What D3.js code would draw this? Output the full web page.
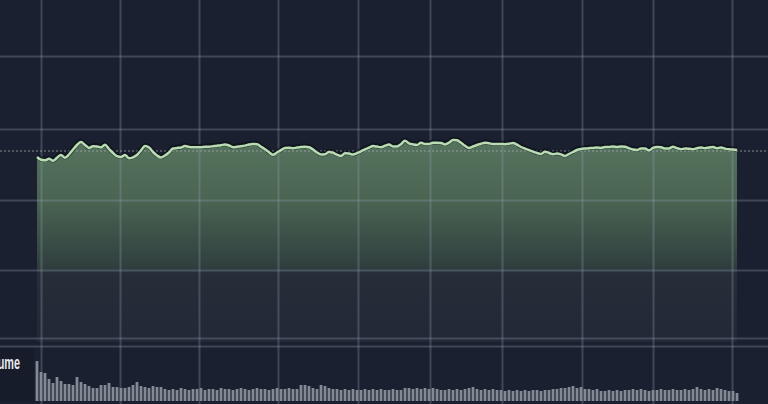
<!DOCTYPE html>
<html>
<head>
<meta charset="utf-8">
<script src="https://cdn.jsdelivr.net/npm/d3@7"></script>
<style>
  html, body { margin: 0; padding: 0; background: #1b2030; overflow: hidden; }
  svg { display: block; }
</style>
</head>
<body>
<svg id="chart" width="768" height="404"></svg>
<script>
// ---- data ----
const prices = [
  253, 250.2, 249.7, 251.2, 249.2, 252.3, 255, 252.2, 255.5, 260.5,
  265, 268, 265, 262, 263.8, 263.6, 262.5, 265.2, 261, 257,
  253.8, 253, 255, 251.7, 252.7, 255, 259.5, 264, 262.5, 258,
  254.5, 252.5, 254.5, 257.5, 261.5, 262, 262.5, 264, 263, 262.7,
  262.8, 262.7, 263.2, 263.3, 263.8, 264.3, 264.8, 265.5, 264.5, 262.8,
  263.2, 263.7, 264.4, 265.4, 266, 265.8, 263.3, 260.7, 257.8, 255.2,
  257.5, 259.8, 262, 262.3, 261.7, 262.4, 263, 263.2, 262.8, 260.5,
  257.5, 255.5, 255.7, 258, 257.2, 255.3, 254, 256.7, 256.5, 255.4,
  256.8, 258.7, 260.7, 262.4, 263.9, 263.4, 262.8, 264.2, 265.4, 263.6,
  263.6, 265.8, 269.3, 266.7, 265.6, 265, 267.3, 266, 266, 267.3,
  267.3, 267, 265.6, 267.3, 270, 269.7, 267.2, 264.2, 262, 263.5,
  265, 266.2, 267.3, 266.7, 266, 266, 266, 265.8, 266.2, 267.1,
  265.3, 263, 261.4, 259.9, 258.4, 256.9, 256, 258.3, 257, 255.8,
  256.4, 255.6, 254, 256, 258, 260, 261, 261.5, 261.8, 262,
  262.4, 262.1, 262.9, 263, 263.5, 263.1, 263.6, 263.2, 261.7, 260.5,
  260, 261.5, 261.4, 259.5, 262.1, 263.1, 262.8, 261.4, 261.6, 263.2,
  261.9, 260.8, 261.4, 261.3, 260.7, 261.8, 262.5, 261.7, 262.6, 263,
  261.7, 262.6, 261.4, 260.7, 260.5, 260
];
const volumes = [
  40, 29, 28, 22, 18, 24, 20, 17, 17, 16,
  24, 19, 17, 15, 13, 13, 16, 16, 18, 14,
  14, 13, 13, 14, 16, 19, 15, 14, 13, 15,
  14, 14, 12, 11, 12, 11, 13, 12, 11, 12,
  12, 13, 11, 12, 12, 11, 13, 12, 12, 11,
  12, 13, 12, 11, 12, 13, 12, 12, 11, 12,
  13, 12, 12, 13, 12, 12, 16, 16, 15, 13,
  12, 16, 15, 13, 12, 12, 11, 12, 11, 12,
  11, 11, 12, 11, 12, 11, 12, 11, 11, 12,
  11, 11, 13, 13, 12, 13, 12, 13, 12, 13,
  12, 11, 11, 12, 11, 12, 11, 12, 13, 14,
  12, 11, 12, 11, 12, 11, 11, 10, 11, 10,
  11, 10, 11, 10, 11, 11, 10, 11, 11, 12,
  12, 13, 13, 14, 15, 13, 14, 12, 12, 11,
  12, 10, 10, 11, 10, 11, 10, 11, 11, 12,
  11, 12, 11, 10, 11, 11, 12, 11, 11, 12,
  11, 11, 12, 11, 12, 14, 12, 11, 12, 11,
  13, 12, 11, 10, 10, 8
];
const prevClose = 259;
const xGridTicks = [1, 20.75, 40.5, 60.25, 80.25, 98.25, 116.25, 136.25, 154, 173.75];
const yGridTicks = [72, 140, 210, 281, 354];
const volumePaneTop = [55];
const volumeLabel = "Volume";

// ---- setup ----
const W = 768, H = 404;
const svg = d3.select("#chart");

const x = d3.scaleLinear().domain([0, prices.length - 1]).range([37, 737]);
const y = d3.scaleLinear().domain([70, 350]).range([340, 60]);
const yVol = d3.scaleLinear().domain([0, 50]).range([401, 351]);

svg.append("rect").attr("width", W).attr("height", H).attr("fill", "#1b2030");

// gradient for area
const defs = svg.append("defs");
const grad = defs.append("linearGradient")
  .attr("id", "areaGrad").attr("gradientUnits", "userSpaceOnUse")
  .attr("x1", 0).attr("x2", 0).attr("y1", 140).attr("y2", 342);
[[0, "#55745e"], [0.3, "#4a6452"], [0.63, "#303f3e"], [0.66, "#262e39"], [1, "#222836"]].forEach(([o, c]) => {
  grad.append("stop").attr("offset", o).attr("stop-color", c);
});

// area
const area = d3.area()
  .x((d, i) => x(i))
  .y0(342)
  .y1(d => y(d))
  .curve(d3.curveMonotoneX);
svg.append("path").datum(prices).attr("d", area).attr("fill", "url(#areaGrad)");

// label box for volume
svg.append("rect").attr("x", 0).attr("y", 348).attr("width", 34).attr("height", 53)
  .attr("fill", "#000").attr("opacity", 0.12);

// grid
const gridColor = "rgba(150,160,180,0.3)";
const gx = svg.append("g").attr("transform", `translate(0,${H})`)
  .call(d3.axisBottom(x).tickValues(xGridTicks).tickSize(-H).tickFormat(""));
gx.select(".domain").remove();
gx.selectAll("line").attr("stroke", gridColor).attr("stroke-width", 2);

const gy = svg.append("g")
  .call(d3.axisRight(y).tickValues(yGridTicks).tickSize(W).tickFormat(""));
gy.select(".domain").remove();
gy.selectAll("line").attr("stroke", gridColor).attr("stroke-width", 2);

const gv = svg.append("g")
  .call(d3.axisRight(yVol).tickValues(volumePaneTop).tickSize(W).tickFormat(""));
gv.select(".domain").remove();
gv.selectAll("line").attr("stroke", gridColor).attr("stroke-width", 2);

// previous close dashed line
svg.append("line")
  .attr("x1", 0).attr("x2", W).attr("y1", y(prevClose)).attr("y2", y(prevClose))
  .attr("stroke", "#a3aba8").attr("stroke-width", 1).attr("stroke-dasharray", "2,2")
  .attr("opacity", 0.8);

// price line with shadow
const line = d3.line().x((d, i) => x(i)).y(d => y(d)).curve(d3.curveMonotoneX);
svg.append("path").datum(prices).attr("d", line)
  .attr("fill", "none").attr("stroke", "rgba(8,12,18,0.55)").attr("stroke-width", 5)
  .attr("transform", "translate(0,-0.8)");
svg.append("path").datum(prices).attr("d", line)
  .attr("fill", "none").attr("stroke", "#b9dcb3").attr("stroke-width", 2.5)
  .attr("stroke-linejoin", "round");

// volume bars
svg.append("g").selectAll("rect").data(volumes).join("rect")
  .attr("x", (d, i) => x(i) - 1.4)
  .attr("width", 2.8)
  .attr("y", d => yVol(d))
  .attr("height", d => yVol(0) - yVol(d))
  .attr("fill", "#848a95");

// volume label (condensed, cut at the left edge as in the reference)
svg.append("text")
  .attr("transform", "scale(0.62,1)")
  .attr("x", 20 / 0.62).attr("y", 369)
  .attr("text-anchor", "end")
  .attr("font-family", "Liberation Sans, Arial, sans-serif")
  .attr("font-weight", "bold")
  .attr("font-size", 17.5)
  .attr("fill", "#e8eaee")
  .text(volumeLabel);
</script>
</body>
</html>
